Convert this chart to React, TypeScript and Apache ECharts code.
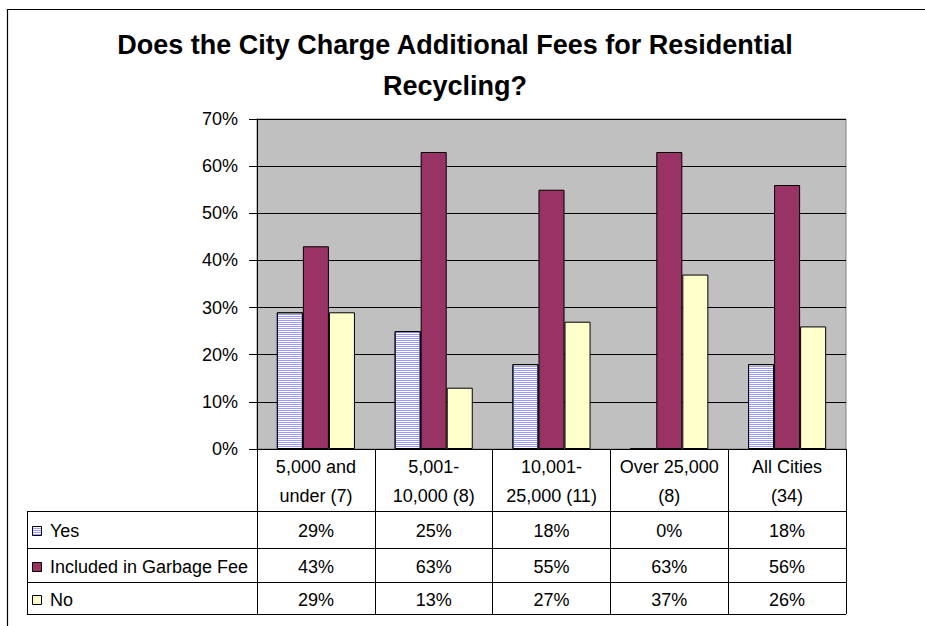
import React, { useEffect, useRef } from 'react';
import * as echarts from 'echarts';

const titleText = 'Does the City Charge Additional Fees for Residential\nRecycling?';
const categories = [
  '5,000 and\nunder (7)',
  '5,001-\n10,000 (8)',
  '10,001-\n25,000 (11)',
  'Over 25,000\n(8)',
  'All Cities\n(34)',
];
const seriesNames = ['Yes', 'Included in Garbage Fee', 'No'];
const yesValues = [29, 25, 18, 0, 18];
const garbageValues = [43, 63, 55, 63, 56];
const noValues = [29, 13, 27, 37, 26];
const yMin = 0;
const yMax = 70;
const yInterval = 10;

const FONT = "'Liberation Sans', Arial, sans-serif";
const GRID_L = 257;
const GRID_R = 846;
const GRID_T = 119;
const GRID_B = 449;
const TABLE_L = 27;
const ROW_LINES = [511, 548, 582, 614];
const colors = ['#ffffff', '#993366', '#ffffcc'];

export default function App() {
  const ref = useRef<HTMLDivElement>(null);
  useEffect(() => {
    const chart = echarts.init(ref.current as HTMLDivElement, null, { renderer: 'svg' });
    const allSeries = [yesValues, garbageValues, noValues];
    const option: any = {
      animation: false,
      title: {
        text: titleText,
        left: 455,
        top: 24,
        textAlign: 'center',
        padding: 0,
        textStyle: {
          fontFamily: FONT,
          fontSize: 27,
          fontWeight: 'bold',
          color: '#000',
          lineHeight: 41,
        },
      },
      grid: {
        left: GRID_L,
        top: GRID_T,
        width: GRID_R - GRID_L,
        height: GRID_B - GRID_T,
        show: true,
        backgroundColor: '#c0c0c0',
        borderColor: '#808080',
        borderWidth: 1,
      },
      xAxis: {
        type: 'category',
        data: categories,
        axisLine: { show: true, lineStyle: { color: '#000', width: 1 } },
        axisTick: { show: true, interval: 0, length: ROW_LINES[3] - GRID_B, lineStyle: { color: '#000' } },
        axisLabel: {
          interval: 0,
          margin: 3,
          fontFamily: FONT,
          fontSize: 18,
          lineHeight: 29,
          color: '#000',
        },
      },
      yAxis: {
        type: 'value',
        min: yMin,
        max: yMax,
        interval: yInterval,
        axisLine: { show: true, lineStyle: { color: '#000' } },
        axisTick: { show: true, length: 8, lineStyle: { color: '#000' } },
        axisLabel: {
          formatter: '{value}%',
          margin: 19,
          fontFamily: FONT,
          fontSize: 18,
          color: '#000',
        },
        splitLine: { show: true, lineStyle: { color: '#000', width: 1 } },
      },
      series: allSeries.map((vals, i) => ({
        name: seriesNames[i],
        type: 'bar',
        data: vals,
        barGap: '0%',
        barCategoryGap: '33.7%',
        itemStyle: {
          color: colors[i],
          borderColor: '#000',
          borderWidth: 1,
          ...(i === 0
            ? {
                decal: {
                  symbol: 'rect',
                  symbolSize: 1,
                  color: '#9999ff',
                  dashArrayX: [1, 0],
                  dashArrayY: [1, 1],
                  rotation: 0,
                },
              }
            : {}),
        },
      })),
    };
    chart.setOption(option);

    const colX = categories.map((_, i) => chart.convertToPixel({ xAxisIndex: 0 }, i) as number);
    const g: any[] = [];
    const lineStyle = { stroke: '#000', lineWidth: 1 };
    // outer frame
    g.push({ type: 'rect', shape: { x: 7.5, y: 9.5, width: 2000, height: 2000 }, style: { fill: 'none', stroke: '#000', lineWidth: 1.2 }, silent: true });
    ROW_LINES.forEach((y) => {
      g.push({ type: 'line', shape: { x1: TABLE_L, y1: y + 0.5, x2: GRID_R, y2: y + 0.5 }, style: lineStyle });
    });
    g.push({ type: 'line', shape: { x1: TABLE_L + 0.5, y1: ROW_LINES[0], x2: TABLE_L + 0.5, y2: ROW_LINES[3] + 0.5 }, style: lineStyle });
    allSeries.forEach((vals, r) => {
      const cy = (ROW_LINES[r] + ROW_LINES[r + 1]) / 2 + 1.5;
      // legend key
      g.push({ type: 'rect', shape: { x: 32.5, y: Math.round(cy - 5) + 0.5, width: 9, height: 9 }, style: { fill: colors[r], stroke: '#000', lineWidth: 1 } });
      if (r === 0) {
        for (let k = 0; k < 4; k++) {
          const yy = Math.round(cy - 5) + 2.5 + k * 2;
          g.push({ type: 'line', shape: { x1: 33, y1: yy, x2: 41, y2: yy }, style: { stroke: '#9999ff', lineWidth: 1 } });
        }
      }
      g.push({ type: 'text', x: 50, y: cy, style: { text: seriesNames[r], fontFamily: FONT, fontSize: 18, fill: '#000', textVerticalAlign: 'middle', textAlign: 'left' } });
      vals.forEach((v, c) => {
        g.push({ type: 'text', x: colX[c], y: cy, style: { text: v + '%', fontFamily: FONT, fontSize: 18, fill: '#000', textVerticalAlign: 'middle', textAlign: 'center' } });
      });
    });
    chart.setOption({ graphic: g });
    return () => chart.dispose();
  }, []);
  return (
    <div
      ref={ref}
      style={{ position: 'fixed', left: 0, top: 0, width: 925, height: 626, background: '#fff' }}
    />
  );
}
